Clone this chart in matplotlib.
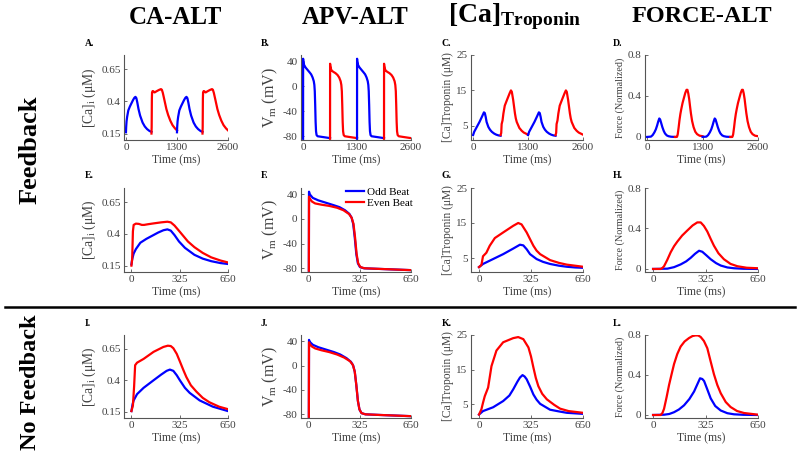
import matplotlib
matplotlib.use('Agg')
import matplotlib.pyplot as plt

# Шрифты в стиле Times
plt.rcParams['font.family'] = ['Liberation Serif', 'DejaVu Serif']
plt.rcParams['mathtext.fontset'] = 'custom'
plt.rcParams['mathtext.rm'] = 'Liberation Serif'
plt.rcParams['mathtext.it'] = 'Liberation Serif:italic'
plt.rcParams['mathtext.bf'] = 'Liberation Serif:bold'

# ---- Данные (один удар, мс) ----
# [Ca]i, с обратной связью
ca_fb_odd_t = [0, 5, 15, 30, 60, 100, 140, 180, 215, 242, 265, 290, 320, 360, 424, 480, 537, 600, 650]
ca_fb_odd_v = [0.16, 0.2, 0.245, 0.28, 0.33, 0.36, 0.385, 0.41, 0.428, 0.435, 0.425, 0.39, 0.34, 0.29, 0.235, 0.205, 0.185, 0.17, 0.163]
ca_fb_even_t = [0, 5, 10, 15, 30, 50, 70, 85, 110, 150, 200, 242, 265, 290, 330, 380, 424, 480, 537, 600, 650]
ca_fb_even_v = [0.15, 0.2, 0.42, 0.47, 0.48, 0.478, 0.47, 0.47, 0.475, 0.482, 0.49, 0.495, 0.49, 0.465, 0.41, 0.34, 0.295, 0.25, 0.215, 0.19, 0.175]
# [Ca]i, без обратной связи
ca_nf_odd_t = [0, 8, 15, 38, 82, 149, 200, 237, 259, 282, 305, 326, 360, 392, 459, 548, 650]
ca_nf_odd_v = [0.155, 0.21, 0.24, 0.29, 0.34, 0.4, 0.445, 0.475, 0.485, 0.475, 0.44, 0.4, 0.34, 0.3, 0.24, 0.19, 0.155]
ca_nf_even_t = [0, 10, 18, 25, 38, 82, 149, 215, 245, 265, 282, 305, 326, 350, 370, 400, 437, 480, 525, 590, 650]
ca_nf_even_v = [0.155, 0.2, 0.35, 0.52, 0.54, 0.57, 0.626, 0.665, 0.675, 0.672, 0.655, 0.61, 0.55, 0.48, 0.425, 0.36, 0.31, 0.26, 0.225, 0.19, 0.17]

# Vm, с обратной связью
vm_fb_odd_t = [0, 1, 5, 25, 60, 110, 160, 195, 230, 258, 272, 282, 292, 302, 312, 325, 350, 450, 550, 650]
vm_fb_odd_v = [-84, 44, 40, 34, 30, 26, 22, 19, 14, 8, 2, -8, -30, -57, -72, -78, -80, -81, -82, -83]
vm_fb_even_t = [0, 1, 5, 20, 40, 80, 130, 180, 220, 255, 272, 284, 294, 304, 314, 328, 355, 450, 550, 650]
vm_fb_even_v = [-84, 36, 33, 28, 25, 23, 21, 18, 14, 8, 2, -8, -30, -57, -72, -78, -80, -81, -82, -83]
# Vm, без обратной связи
vm_nf_odd_t = [0, 1, 5, 25, 60, 110, 160, 200, 240, 268, 282, 292, 302, 312, 322, 335, 360, 450, 550, 650]
vm_nf_odd_v = [-84, 42, 39, 34, 30, 26, 22, 18, 12, 6, 0, -10, -32, -58, -72, -78, -80, -81, -82, -83]
vm_nf_even_t = [0, 1, 5, 20, 40, 80, 130, 180, 225, 262, 280, 292, 302, 312, 322, 335, 360, 450, 550, 650]
vm_nf_even_v = [-84, 38, 35, 31, 28, 25, 22, 18, 13, 7, 1, -10, -32, -58, -72, -78, -80, -81, -82, -83]

# [Ca]Troponin, с обратной связью
tn_fb_odd_t = [0, 25, 88, 151, 214, 256, 277, 298, 319, 360, 400, 444, 500, 549, 600, 650]
tn_fb_odd_v = [2.4, 3.3, 4.7, 6.1, 7.7, 8.8, 8.6, 7.5, 6.1, 4.7, 3.9, 3.3, 2.8, 2.5, 2.3, 2.2]
tn_fb_even_t = [0, 15, 25, 46, 67, 99, 151, 214, 245, 266, 298, 320, 340, 360, 382, 444, 500, 549, 600, 650]
tn_fb_even_v = [2.4, 3.0, 5.5, 6.5, 8.5, 10.7, 12.3, 14.2, 15.0, 14.6, 12.3, 10.3, 8.5, 7.1, 6.1, 4.4, 3.6, 3.1, 2.8, 2.5]
# [Ca]Troponin, без обратной связи
tn_nf_odd_t = [0, 25, 88, 151, 190, 214, 240, 256, 272, 285, 298, 320, 340, 360, 382, 444, 500, 549, 650]
tn_nf_odd_v = [2.0, 3.0, 4.1, 5.9, 7.5, 9.3, 11.5, 12.7, 13.4, 13.0, 12.2, 10.0, 7.8, 6.3, 5.1, 3.4, 2.9, 2.5, 2.2]
tn_nf_even_t = [0, 15, 25, 36, 57, 78, 109, 151, 214, 245, 277, 309, 325, 340, 355, 371, 395, 424, 470, 507, 560, 650]
tn_nf_even_v = [2.0, 3.5, 5.4, 7.3, 9.8, 16.0, 20.5, 22.9, 24.1, 24.4, 23.8, 21.4, 18.8, 15.6, 12.6, 10.2, 8.0, 6.4, 4.8, 3.7, 3.0, 2.5]

# Сила (нормированная), с обратной связью
fo_fb_odd_t = [0, 89, 130, 171, 205, 233, 260, 285, 305, 330, 357, 390, 419, 460, 501, 560, 650]
fo_fb_odd_v = [0.0, 0.003, 0.018, 0.045, 0.075, 0.11, 0.15, 0.18, 0.17, 0.135, 0.096, 0.058, 0.034, 0.015, 0.007, 0.002, 0.0]
fo_fb_even_t = [0, 47, 58, 68, 88, 109, 130, 150, 180, 212, 245, 274, 295, 315, 336, 356, 377, 405, 439, 480, 522, 580, 650]
fo_fb_even_v = [0.0, 0.0, 0.01, 0.027, 0.09, 0.165, 0.225, 0.27, 0.33, 0.38, 0.43, 0.46, 0.46, 0.425, 0.37, 0.3, 0.23, 0.155, 0.096, 0.05, 0.027, 0.012, 0.007]
# Сила (нормированная), без обратной связи
fo_nf_odd_t = [0, 68, 100, 130, 160, 192, 225, 254, 275, 291, 305, 316, 335, 357, 385, 419, 460, 501, 560, 650]
fo_nf_odd_v = [0.0, 0.003, 0.01, 0.028, 0.055, 0.097, 0.16, 0.235, 0.31, 0.367, 0.36, 0.34, 0.26, 0.166, 0.09, 0.045, 0.018, 0.007, 0.002, 0.0]
fo_nf_even_t = [0, 47, 58, 68, 84, 99, 115, 130, 150, 171, 195, 223, 245, 264, 280, 295, 315, 336, 356, 377, 398, 419, 450, 480, 520, 563, 650]
fo_nf_even_v = [0.0, 0.0, 0.02, 0.062, 0.18, 0.3, 0.41, 0.51, 0.61, 0.685, 0.735, 0.77, 0.79, 0.796, 0.795, 0.78, 0.74, 0.668, 0.54, 0.408, 0.3, 0.218, 0.13, 0.08, 0.04, 0.02, 0.003]

# Оформление осей
ylims = [(0.1, 0.76), (-86, 50), (1, 25), (-0.03, 0.8)]
yticks = [[0.15, 0.4, 0.65], [-80, -40, 0, 40], [5, 15, 25], [0, 0.4, 0.8]]
yticklabels = [['0.15', '0.4', '0.65'], ['-80', '-40', '0', '40'], ['5', '15', '25'], ['0', '0.4', '0.8']]
ylabels = [r'[Ca]$_{\rm i}$ (μM)', r'V$_{\rm m}$ (mV)', '[Ca]Troponin (μM)', 'Force (Normalized)']
ylabel_sizes = [9.8, 11.5, 8.3, 7.3]
titles = ['CA-ALT', 'APV-ALT', r'[Ca]$_{\mathbf{Troponin}}$', 'FORCE-ALT']
title_sizes = [18, 18, 20, 17.5]
letters = [['A.', 'B.', 'C.', 'D.'], ['E.', 'F.', 'G.', 'H.'], ['I.', 'J.', 'K.', 'L.']]

fb = [(ca_fb_odd_t, ca_fb_odd_v, ca_fb_even_t, ca_fb_even_v),
      (vm_fb_odd_t, vm_fb_odd_v, vm_fb_even_t, vm_fb_even_v),
      (tn_fb_odd_t, tn_fb_odd_v, tn_fb_even_t, tn_fb_even_v),
      (fo_fb_odd_t, fo_fb_odd_v, fo_fb_even_t, fo_fb_even_v)]
nf = [(ca_nf_odd_t, ca_nf_odd_v, ca_nf_even_t, ca_nf_even_v),
      (vm_nf_odd_t, vm_nf_odd_v, vm_nf_even_t, vm_nf_even_v),
      (tn_nf_odd_t, tn_nf_odd_v, tn_nf_even_t, tn_nf_even_v),
      (fo_nf_odd_t, fo_nf_odd_v, fo_nf_even_t, fo_nf_even_v)]

W, H = 800, 454
fig = plt.figure(figsize=(8, 4.54), dpi=100)

cols = [(124, 228), (301, 411), (471, 583), (645, 758)]
rows = [(55, 140), (188, 272), (335, 418)]
letter_x = [85, 261, 442, 613]
title_x = [175, 355, 515, 702]

BLUE = '#0000ff'
RED = '#ff0000'
GREY = '#404040'


def make_ax(r, c):
    x0, x1 = cols[c]
    y0, y1 = rows[r]
    ax = fig.add_axes([x0 / W, 1 - y1 / H, (x1 - x0) / W, (y1 - y0) / H])
    for s in ['top', 'right']:
        ax.spines[s].set_visible(False)
    for s in ['left', 'bottom']:
        ax.spines[s].set_color('#555555')
        ax.spines[s].set_linewidth(0.8)
    ax.tick_params(direction='in', length=2.5, width=0.6, colors='#555555',
                   labelcolor=GREY, labelsize=8, pad=2.5)
    ax.set_ylim(*ylims[c])
    ax.set_yticks(yticks[c])
    ax.set_yticklabels(yticklabels[c])
    ax.set_ylabel(ylabels[c], fontsize=ylabel_sizes[c], color=GREY, labelpad=2)
    ax.set_xlabel('Time (ms)', fontsize=8.5, color=GREY, labelpad=1.5)
    return ax


lw = 1.6
for c in range(4):
    # Ряд 1: четыре удара подряд
    ax = make_ax(0, c)
    ot, ov, et, ev = fb[c]
    for k, off in enumerate([0, 650, 1300, 1950]):
        if k % 2 == 0:
            ax.plot([t + off for t in ot], ov, color=BLUE, lw=lw)
        else:
            ax.plot([t + off for t in et], ev, color=RED, lw=lw)
    ax.set_xlim(-50, 2600)
    ax.set_xticks([0, 1300, 2600])

    # Ряд 2: удары наложены, с обратной связью
    ax = make_ax(1, c)
    ax.plot(ot, ov, color=BLUE, lw=lw, label='Odd Beat')
    ax.plot(et, ev, color=RED, lw=lw, label='Even Beat')
    ax.set_xlim(-50, 650)
    ax.set_xticks([0, 325, 650])
    if c == 1:
        ax.legend(loc='upper right', bbox_to_anchor=(1.06, 1.06), frameon=False,
                  fontsize=8, handlelength=1.6, handletextpad=0.3, labelspacing=0.05,
                  borderaxespad=0)

    # Ряд 3: без обратной связи
    ax = make_ax(2, c)
    ot2, ov2, et2, ev2 = nf[c]
    ax.plot(ot2, ov2, color=BLUE, lw=lw)
    ax.plot(et2, ev2, color=RED, lw=lw)
    ax.set_xlim(-50, 650)
    ax.set_xticks([0, 325, 650])

# Подписи панелей
for r in range(3):
    for c in range(4):
        fig.text(letter_x[c] / W, 1 - (rows[r][0] - 12) / H, letters[r][c],
                 fontsize=7, fontweight='bold', ha='left', va='center')

# Заголовки столбцов
for c in range(4):
    fig.text(title_x[c] / W, 1 - 17 / H, titles[c], fontsize=title_sizes[c],
             fontweight='bold', ha='center', va='center')

# Подписи рядов
fig.text(30 / W, 1 - 150 / H, 'Feedback', fontsize=19, fontweight='bold',
         rotation=90, ha='center', va='center')
fig.text(30 / W, 1 - 382 / H, 'No Feedback', fontsize=17.5, fontweight='bold',
         rotation=90, ha='center', va='center')

# Разделительная линия
fig.add_artist(plt.Line2D([5 / W, 795 / W], [1 - 307 / H, 1 - 307 / H],
                          color='black', lw=1.8, transform=fig.transFigure))

fig.savefig('out.png', dpi=100)
